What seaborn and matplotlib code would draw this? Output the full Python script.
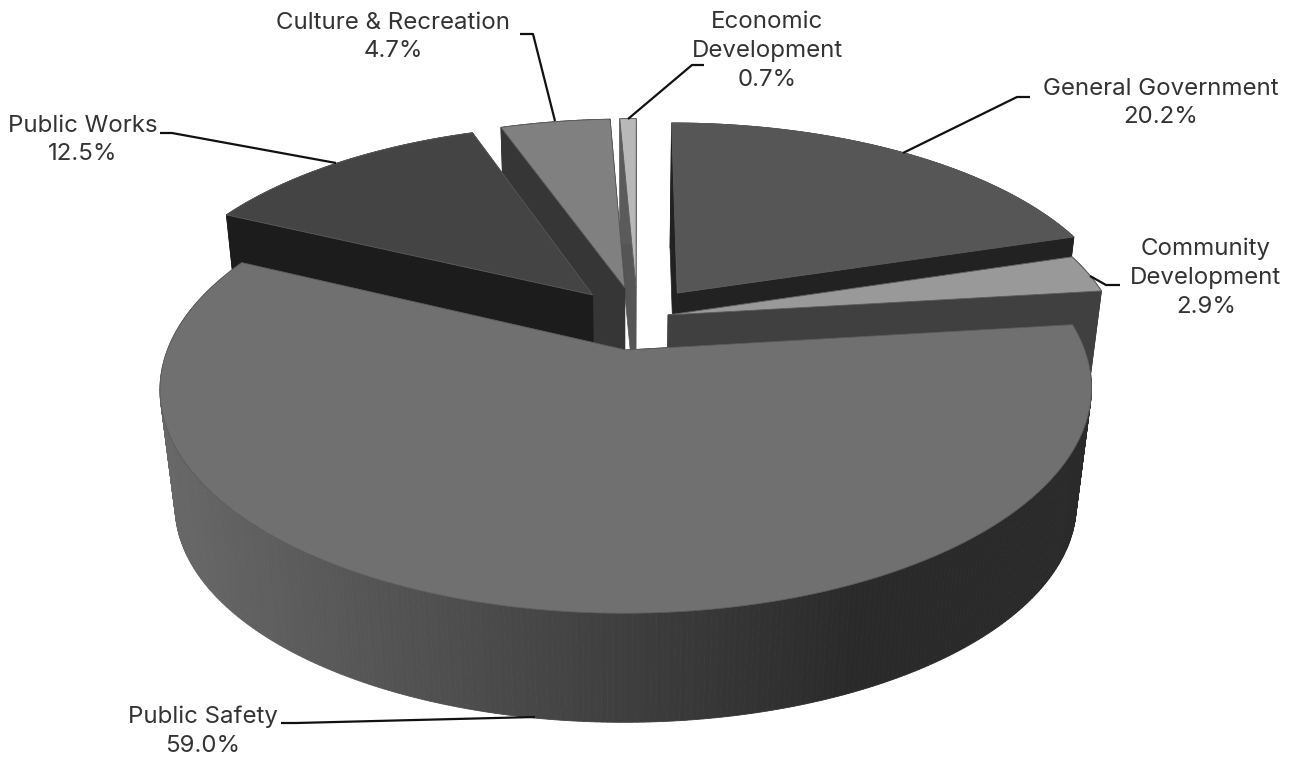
import numpy as np
import matplotlib
matplotlib.use("Agg")
import matplotlib.pyplot as plt
import seaborn as sns

categories = ["General Government", "Community Development", "Public Safety",
              "Public Works", "Culture & Recreation", "Economic Development"]
values = [20.2, 2.9, 59.0, 12.5, 4.7, 0.7]
explode = [0.153, 0.07, 0.153, 0.153, 0.153, 0.153]
top_greys = ["#565656", "#999999", "#707070", "#444444", "#808080", "#b8b8b8"]
cut_greys = ["#222222", "#404040", "#333333", "#1c1c1c", "#363636", "#555555"]
wall_light = ["#222222", "#404040", "#686868", "#1c1c1c", "#363636", "#666666"]
wall_dark = ["#222222", "#404040", "#2a2a2a", "#1c1c1c", "#363636", "#555555"]

sns.set_theme(style="white")
plt.rcParams["font.family"] = ["Inter", "DejaVu Sans"]

fig = plt.figure(figsize=(13.02, 7.57), dpi=100)
ax = fig.add_axes([0, 0, 1, 1])
ax.set_xlim(0, 1302); ax.set_ylim(757, 0); ax.axis("off")

CX, CY, A, B, K = 637.5, 318, 447, 206.6, 0.169
VX, VY, Q = 625, 3970, 0.9675


def top(X, Y):
    s = 1 / (1 + K * Y)
    return CX + A * X * s, CY - B * Y * s


def low(x, y):
    return VX + Q * (x - VX), VY + Q * (y - VY)


def lerp_grey(c1, c2, f):
    a = np.array(matplotlib.colors.to_rgb(c1)); b = np.array(matplotlib.colors.to_rgb(c2))
    return tuple(a + (b - a) * np.clip(f, 0, 1))


bounds = np.concatenate([[0], np.cumsum(values)]) / sum(values) * 2 * np.pi
order = [5, 4, 3, 0, 1, 2]
for i in order:
    t0, t1 = bounds[i], bounds[i + 1]
    m = (t0 + t1) / 2
    ox, oy = explode[i] * np.sin(m), explode[i] * np.cos(m)
    t = np.linspace(t0, t1, max(int((t1 - t0) * 90), 8))
    ax_, ay_ = top(ox + np.sin(t), oy + np.cos(t))
    tx, ty = top(ox, oy)
    for xe, ye in [(ax_[0], ay_[0]), (ax_[-1], ay_[-1])]:
        lx0, ly0 = low(tx, ty); lx1, ly1 = low(xe, ye)
        ax.fill([tx, xe, lx1, lx0], [ty, ye, ly1, ly0], color=cut_greys[i], lw=0.5, zorder=1)
    bx, by = low(ax_, ay_)
    for j in range(len(t) - 1):
        f = (ax_[j] - 157) / (860 - 157)
        ax.fill([ax_[j], ax_[j + 1], bx[j + 1], bx[j]], [ay_[j], ay_[j + 1], by[j + 1], by[j]],
                color=lerp_grey(wall_light[i], wall_dark[i], f), lw=0.6, zorder=1)
    ax.fill(np.r_[tx, ax_], np.r_[ty, ay_], facecolor=top_greys[i], edgecolor="#5c5c5c", lw=0.6, zorder=1)

ink = "#333333"
labels = [
    ("General Government\n20.2%", 1161, 103),
    ("Community\nDevelopment\n2.9%", 1206, 278),
    ("Public Safety\n59.0%", 203, 731),
    ("Public Works\n12.5%", 83, 140),
    ("Culture & Recreation\n4.7%", 393, 37),
    ("Economic\nDevelopment\n0.7%", 767, 51),
]
leaders = [
    ([1030, 1017, 903], [97, 97, 153]),
    ([1120, 1106, 1090], [285, 285, 276]),
    ([281, 296, 535], [723, 723, 717]),
    ([160, 172, 336], [133, 133, 163]),
    ([520, 533, 555], [34, 34, 121]),
    ([704, 692, 628], [65, 65, 119]),
]
for s, x, y in labels:
    ax.text(x, y, s, ha="center", va="center", fontsize=17.3, color=ink, linespacing=1.41, zorder=5)
for xs, ys in leaders:
    ax.plot(xs, ys, color="#111111", lw=1.6, zorder=4, solid_capstyle="butt")

fig.savefig("out.png", dpi=100, facecolor="white")
